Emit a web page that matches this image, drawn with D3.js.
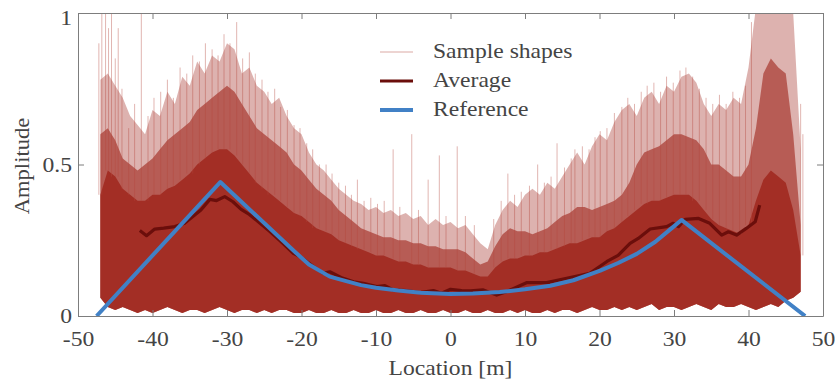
<!DOCTYPE html>
<html>
<head>
<meta charset="utf-8">
<script src="https://cdn.jsdelivr.net/npm/d3@7"></script>
<style>
  body { margin: 0; background: #fff; }
  text { font-family: "Liberation Serif", "Times New Roman", serif; fill: #444; }
</style>
</head>
<body>
<svg id="chart" width="835" height="382"></svg>
<script>
// sample shape envelopes, read every 1 m from -47 m to 47 m
const sampleLoc = d3.range(-47, 48, 1);
const sampleOuter = [
  0.78, 0.80, 0.76, 0.72, 0.66, 0.63, 0.60, 0.68, 0.66, 0.74,
  0.70, 0.79, 0.76, 0.84, 0.80, 0.86, 0.84, 0.90, 0.88, 0.80,
  0.82, 0.76, 0.74, 0.70, 0.72, 0.66, 0.62, 0.60, 0.54, 0.50,
  0.48, 0.45, 0.42, 0.40, 0.38, 0.37, 0.35, 0.36, 0.34, 0.35,
  0.33, 0.34, 0.32, 0.33, 0.30, 0.32, 0.30, 0.31, 0.29, 0.30,
  0.27, 0.24, 0.22, 0.30, 0.35, 0.38, 0.36, 0.40, 0.42, 0.40,
  0.44, 0.42, 0.46, 0.50, 0.54, 0.50, 0.56, 0.60, 0.58, 0.64,
  0.68, 0.70, 0.66, 0.72, 0.74, 0.70, 0.76, 0.74, 0.79, 0.80,
  0.77, 0.70, 0.66, 0.70, 0.68, 0.72, 0.70, 0.82, 1.02, 1.10,
  1.10, 1.10, 1.06, 1.00, 0.55
];
const sampleBody = [
  0.60, 0.62, 0.58, 0.52, 0.50, 0.48, 0.50, 0.52, 0.55, 0.58,
  0.60, 0.62, 0.64, 0.68, 0.70, 0.72, 0.74, 0.76, 0.74, 0.70,
  0.66, 0.62, 0.60, 0.58, 0.56, 0.54, 0.50, 0.48, 0.45, 0.42,
  0.40, 0.38, 0.35, 0.33, 0.31, 0.29, 0.28, 0.27, 0.26, 0.26,
  0.25, 0.25, 0.24, 0.24, 0.23, 0.23, 0.22, 0.22, 0.22, 0.21,
  0.19, 0.17, 0.18, 0.23, 0.27, 0.29, 0.28, 0.28, 0.27, 0.28,
  0.29, 0.31, 0.33, 0.34, 0.36, 0.36, 0.35, 0.36, 0.37, 0.38,
  0.40, 0.44, 0.50, 0.54, 0.55, 0.56, 0.58, 0.60, 0.60, 0.59,
  0.58, 0.55, 0.50, 0.50, 0.48, 0.46, 0.46, 0.50, 0.62, 0.80,
  0.85, 0.82, 0.80, 0.60, 0.30
];
const sampleCore = [
  0.40, 0.48, 0.46, 0.42, 0.40, 0.38, 0.38, 0.40, 0.40, 0.42,
  0.43, 0.45, 0.47, 0.50, 0.52, 0.54, 0.55, 0.55, 0.53, 0.50,
  0.47, 0.44, 0.42, 0.40, 0.38, 0.36, 0.34, 0.33, 0.31, 0.29,
  0.28, 0.27, 0.25, 0.24, 0.23, 0.22, 0.21, 0.20, 0.20, 0.19,
  0.18, 0.18, 0.17, 0.17, 0.16, 0.16, 0.16, 0.16, 0.15, 0.15,
  0.14, 0.13, 0.13, 0.16, 0.18, 0.19, 0.19, 0.20, 0.20, 0.21,
  0.21, 0.22, 0.23, 0.24, 0.24, 0.25, 0.26, 0.26, 0.28, 0.29,
  0.31, 0.33, 0.35, 0.37, 0.38, 0.38, 0.39, 0.40, 0.40, 0.40,
  0.38, 0.35, 0.32, 0.30, 0.29, 0.28, 0.27, 0.30, 0.38, 0.45,
  0.48, 0.46, 0.44, 0.35, 0.20
];
const sampleFloor = [
  0.06, 0.03, 0.02, 0.03, 0.02, 0.01, 0.02, 0.01, 0.02, 0.03,
  0.02, 0.01, 0.02, 0.02, 0.01, 0.02, 0.03, 0.02, 0.01, 0.02,
  0.02, 0.01, 0.02, 0.01, 0.02, 0.02, 0.01, 0.01, 0.02, 0.01,
  0.01, 0.02, 0.01, 0.01, 0.02, 0.01, 0.01, 0.02, 0.01, 0.01,
  0.02, 0.01, 0.01, 0.02, 0.01, 0.01, 0.02, 0.01, 0.01, 0.02,
  0.01, 0.01, 0.02, 0.01, 0.01, 0.02, 0.01, 0.02, 0.01, 0.01,
  0.02, 0.01, 0.02, 0.02, 0.01, 0.02, 0.03, 0.02, 0.02, 0.03,
  0.02, 0.03, 0.02, 0.03, 0.04, 0.02, 0.03, 0.03, 0.02, 0.03,
  0.04, 0.03, 0.02, 0.04, 0.03, 0.03, 0.04, 0.03, 0.02, 0.03,
  0.04, 0.03, 0.05, 0.06, 0.08
];
// tips of single sample traces sticking out of the band [location, amplitude]
const sampleSpikes = [
  [-47.2, 0.90], [-46.8, 1.05], [-46.3, 1.05], [-45.9, 0.95], [-45.5, 1.05],
  [-45.0, 0.85], [-44.6, 0.95], [-44.1, 0.75], [-43.2, 0.62], [-42.4, 0.70],
  [-41.5, 1.00], [-40.6, 0.66], [-39.8, 0.72], [-38.9, 0.74], [-38.0, 0.78],
  [-37.2, 0.72], [-36.3, 0.82], [-35.4, 0.80], [-34.6, 0.86], [-33.7, 0.84],
  [-32.9, 0.90], [-32.0, 0.88], [-31.2, 0.86], [-30.4, 0.93], [-29.6, 0.90],
  [-28.7, 0.97], [-27.9, 0.85], [-27.0, 0.87], [-26.2, 0.80], [-25.3, 0.78],
  [-24.5, 0.74], [-23.6, 0.75], [-22.8, 0.69], [-21.9, 0.68], [-21.0, 0.63],
  [-20.2, 0.62], [-19.3, 0.57], [-18.5, 0.55], [-17.6, 0.50], [-16.7, 0.50],
  [-15.9, 0.47], [-15.0, 0.44], [-14.1, 0.43], [-13.3, 0.40], [-12.5, 0.45],
  [-11.6, 0.38], [-10.7, 0.39], [-9.8, 0.37], [-8.9, 0.38], [-7.7, 0.55],
  [-6.8, 0.36], [-5.2, 0.60], [-4.3, 0.35], [-3.0, 0.45], [-1.5, 0.53],
  [-0.6, 0.33], [0.9, 0.56], [2.0, 0.33], [3.2, 0.30], [5.8, 0.32],
  [6.8, 0.38], [7.7, 0.47], [8.6, 0.40], [9.5, 0.41], [10.6, 0.43],
  [11.7, 0.50], [12.6, 0.44], [13.5, 0.46], [14.3, 0.57], [15.3, 0.49],
  [16.2, 0.52], [16.7, 0.55], [17.7, 0.56], [18.6, 0.55], [19.4, 0.59],
  [20.1, 0.61], [21.0, 0.62], [22.0, 0.67], [23.0, 0.69], [23.8, 0.72],
  [24.7, 0.70], [25.6, 0.74], [26.4, 0.76], [27.3, 0.77], [28.2, 0.74],
  [29.0, 0.79], [29.9, 0.77], [30.8, 0.81], [31.6, 0.82], [32.5, 0.79],
  [33.4, 0.75], [34.3, 0.72], [35.2, 0.70], [36.1, 0.73], [37.0, 0.70],
  [37.9, 0.74], [38.8, 0.72], [39.6, 0.76], [40.4, 0.97], [47.0, 0.70],
  [47.3, 0.60]
];

const avgLoc = [
  -41.7, -40.8, -39.7, -38.5, -37.0, -35.7, -34.5, -33.5, -32.3, -31.4,
  -30.3, -29.2, -28.1, -27.0, -25.8, -24.2, -22.5, -21.1, -20.2, -18.4,
  -17.1, -16.2, -14.5, -13.0, -11.7, -9.9, -8.8, -7.7, -5.9, -4.1,
  -2.3, -1.2, 0.0, 1.5, 2.7, 4.4, 6.2, 7.5, 10.2, 12.9,
  15.6, 18.7, 21.0, 22.5, 24.1, 25.2, 26.8, 29.0, 29.9, 30.6,
  31.5, 33.3, 34.8, 36.4, 37.3, 38.4, 39.7, 40.9, 41.5
];
const avgAmp = [
  0.282, 0.265, 0.287, 0.290, 0.295, 0.306, 0.330, 0.350, 0.385, 0.381,
  0.394, 0.377, 0.352, 0.335, 0.311, 0.278, 0.240, 0.207, 0.196, 0.163,
  0.141, 0.146, 0.125, 0.113, 0.108, 0.097, 0.100, 0.086, 0.084, 0.077,
  0.084, 0.075, 0.088, 0.084, 0.083, 0.086, 0.069, 0.080, 0.110, 0.110,
  0.124, 0.141, 0.180, 0.200, 0.240, 0.256, 0.287, 0.295, 0.306, 0.295,
  0.319, 0.322, 0.306, 0.267, 0.278, 0.267, 0.289, 0.311, 0.366
];

const refLoc = [
  -47.5, -30.9, -20.9, -19.0, -16.2, -14.0, -12.0, -10.0, -7.0, -4.0,
  0.0, 3.0, 6.6, 10.0, 13.4, 16.5, 20.1, 22.5, 25.0, 27.5,
  29.7, 31.0, 47.6
];
const refAmp = [
  0.000, 0.442, 0.212, 0.170, 0.130, 0.115, 0.102, 0.093, 0.084, 0.077,
  0.073, 0.074, 0.079, 0.088, 0.100, 0.118, 0.150, 0.175, 0.205, 0.245,
  0.290, 0.317, 0.000
];

const xTicks = [-50, -40, -30, -20, -10, 0, 10, 20, 30, 40, 50];
const yTicks = [0, 0.5, 1];

const margin = {top: 13, right: 12, bottom: 66, left: 78};
const width = 835 - margin.left - margin.right;
const height = 382 - margin.top - margin.bottom;
const STRETCH = 1.18;    // glyphs in the picture are wider than plain Times
const AXIS_COLOR = '#7d7d7d';
const SAMPLE_COLOR = '#9e2319';

const svg = d3.select('#chart');
const g = svg.append('g').attr('transform', `translate(${margin.left},${margin.top})`);

const x = d3.scaleLinear().domain([-50, 50]).range([0, width]);
const y = d3.scaleLinear().domain([0, 1]).range([height, 0]);

g.append('clipPath').attr('id', 'plot-clip')
  .append('rect').attr('width', width).attr('height', height);

const plot = g.append('g').attr('clip-path', 'url(#plot-clip)');

const envelope = top => d3.area()
  .x((d, i) => x(sampleLoc[i]))
  .y0((d, i) => y(sampleFloor[i]))
  .y1((d, i) => y(top[i]));

[[sampleOuter, 0.35], [sampleBody, 0.6], [sampleCore, 0.8]].forEach(([top, op]) => {
  plot.append('path')
    .datum(top)
    .attr('d', envelope(top))
    .attr('fill', SAMPLE_COLOR)
    .attr('fill-opacity', op);
});

const nearest = loc => Math.max(0, Math.min(sampleLoc.length - 1, Math.round(loc) + 47));

plot.selectAll('.spike')
  .data(sampleSpikes)
  .join('line')
  .attr('class', 'spike')
  .attr('x1', d => x(d[0])).attr('x2', d => x(d[0]))
  .attr('y1', d => y(sampleCore[nearest(d[0])]))
  .attr('y2', d => y(d[1]))
  .attr('stroke', '#b4463c')
  .attr('stroke-opacity', 0.4)
  .attr('stroke-width', 1);

const line = d3.line().x(d => x(d[0])).y(d => y(d[1]));

plot.append('path')
  .attr('d', line(d3.zip(avgLoc, avgAmp)))
  .attr('fill', 'none')
  .attr('stroke', '#6b0e0b')
  .attr('stroke-width', 3.2)
  .attr('stroke-linejoin', 'round');

plot.append('path')
  .attr('d', line(d3.zip(refLoc, refAmp)))
  .attr('fill', 'none')
  .attr('stroke', '#4181c6')
  .attr('stroke-width', 4)
  .attr('stroke-linejoin', 'round');

// box with inward ticks on all four sides
const styleAxis = sel => {
  sel.select('.domain').attr('stroke', AXIS_COLOR);
  sel.selectAll('.tick line').attr('stroke', AXIS_COLOR);
};

g.append('g')
  .attr('transform', `translate(0,${height})`)
  .call(d3.axisBottom(x).tickValues(xTicks).tickSizeInner(-6).tickSizeOuter(0).tickFormat(d => String(d)))
  .call(styleAxis)
  .call(a => a.selectAll('.tick text')
    .attr('y', 30).attr('dy', 0)
    .attr('font-size', 20)
    .attr('transform', `scale(${STRETCH},1)`));

g.append('g')
  .call(d3.axisTop(x).tickValues(xTicks).tickSizeInner(-6).tickSizeOuter(0).tickFormat(''))
  .call(styleAxis);

g.append('g')
  .call(d3.axisLeft(y).tickValues(yTicks).tickSizeInner(-6).tickSizeOuter(0).tickFormat(d => String(d)))
  .call(styleAxis)
  .call(a => a.selectAll('.tick text')
    .attr('x', -6 / STRETCH).attr('dy', d => d === 1 ? '0.55em' : '0.34em')
    .attr('font-size', 20)
    .attr('transform', `scale(${STRETCH},1)`));

g.append('g')
  .attr('transform', `translate(${width},0)`)
  .call(d3.axisRight(y).tickValues(yTicks).tickSizeInner(-6).tickSizeOuter(0).tickFormat(''))
  .call(styleAxis);

svg.append('text')
  .attr('transform', `translate(${margin.left + width / 2},375) scale(${STRETCH},1)`)
  .attr('text-anchor', 'middle')
  .attr('font-size', 20)
  .text('Location [m]');

svg.append('text')
  .attr('transform', `translate(29,166) rotate(-90) scale(1.13,1)`)
  .attr('text-anchor', 'middle')
  .attr('font-size', 20)
  .text('Amplitude');

// legend
const legendItems = [
  {name: 'Sample shapes', color: '#dba9a4', w: 1, y: 52},
  {name: 'Average', color: '#6b0e0b', w: 3, y: 81},
  {name: 'Reference', color: '#4181c6', w: 4, y: 110}
];
const legend = svg.append('g');
legendItems.forEach(it => {
  legend.append('line')
    .attr('x1', 380).attr('x2', 413)
    .attr('y1', it.y).attr('y2', it.y)
    .attr('stroke', it.color).attr('stroke-width', it.w);
  legend.append('text')
    .attr('transform', `translate(433,${it.y + 6}) scale(${STRETCH},1)`)
    .attr('font-size', 20)
    .text(it.name);
});
</script>
</body>
</html>
